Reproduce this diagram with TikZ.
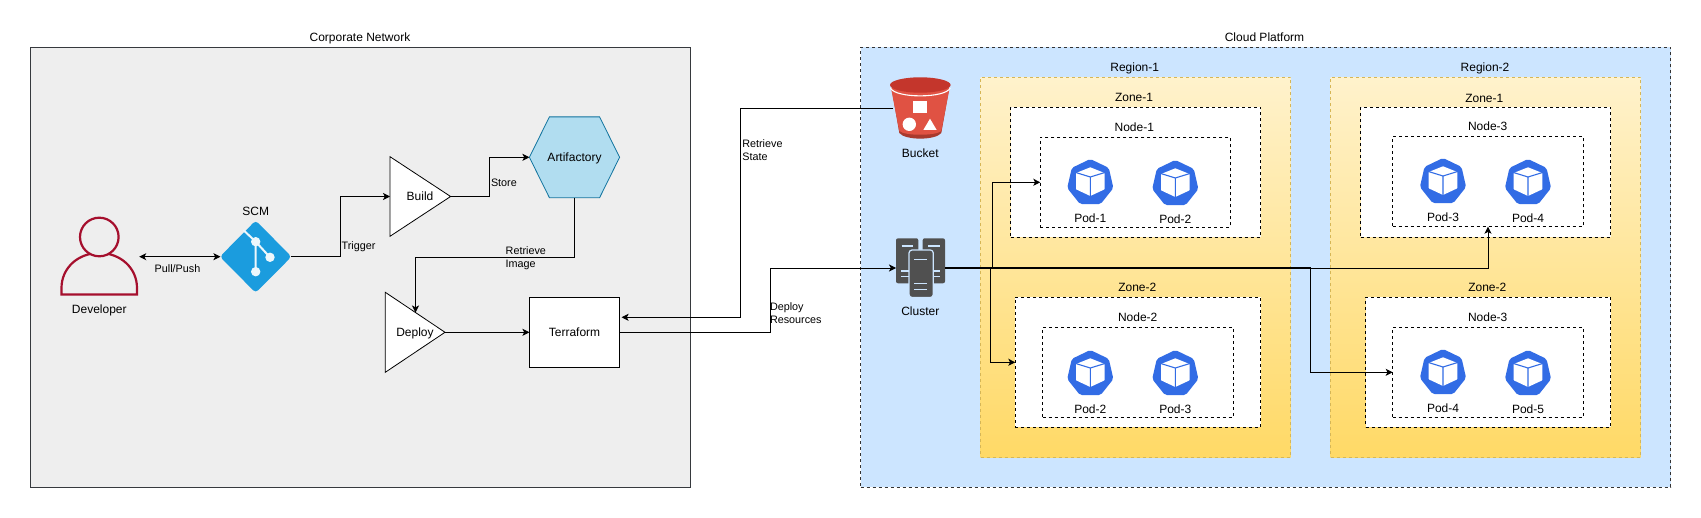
\documentclass[tikz,border=0pt]{standalone}
\usepackage{fontspec}
\setmainfont{Liberation Sans}
\usetikzlibrary{arrows.meta,calc}
\definecolor{corpfill}{HTML}{EEEEEE}
\definecolor{corpline}{HTML}{36393D}
\definecolor{cloudfill}{HTML}{CCE5FF}
\definecolor{regline}{HTML}{D6B656}
\definecolor{regtop}{HTML}{FFF2CC}
\definecolor{regbot}{HTML}{FFD966}
\definecolor{artfill}{HTML}{B1DDF0}
\definecolor{artline}{HTML}{10739E}
\definecolor{devline}{HTML}{A50F2D}
\definecolor{scmblue}{HTML}{1B9CDE}
\definecolor{podblue}{HTML}{326CE5}
\definecolor{bucketred}{HTML}{E05243}
\definecolor{bucketdark}{HTML}{C4362C}
\definecolor{bucketlip}{HTML}{A93A2E}
\definecolor{servergrey}{HTML}{505050}
\newcommand{\bx}[7]{%
  \pgfmathsetmacro{\bxw}{#5-#3}\pgfmathsetmacro{\bxh}{#6-#4}%
  \pgfmathsetmacro{\bxcx}{(#5+#3)/2}\pgfmathsetmacro{\bxcy}{(#6+#4)/2}%
  \node[boxbase,minimum width=\bxw pt,minimum height=\bxh pt,#1] (#2) at (\bxcx,\bxcy) {#7};}
\tikzset{
  x=1pt,y=-1pt,
  every node/.style={font=\fontsize{12}{13}\selectfont},
  boxbase/.style={inner sep=0pt,outer sep=0pt,rectangle},
  corpbox/.style={draw=corpline,fill=corpfill,line width=0.8pt},
  cloudbox/.style={draw=black!80,fill=cloudfill,line width=0.8pt,dash pattern=on 3pt off 3pt},
  regionbox/.style={draw=regline,top color=regtop,bottom color=regbot,line width=0.8pt,dash pattern=on 3pt off 3pt},
  whitebox/.style={draw=black,fill=white,line width=0.8pt,dash pattern=on 3pt off 3pt},
  solidbox/.style={draw=black,fill=white,line width=0.8pt},
  ghost/.style={},
  lbl/.style={inner sep=0pt,outer sep=0pt,text height=8.6pt,text depth=0pt},
  small/.style={font=\fontsize{10.8}{13}\selectfont,inner sep=0pt,outer sep=0pt,align=left,anchor=west},
  conn/.style={draw=black,line width=0.9pt},
  arr/.style={conn,-{Stealth[length=7pt,width=7pt,inset=1.8pt]}},
  darr/.style={conn,{Stealth[length=7pt,width=7pt,inset=1.8pt]}-{Stealth[length=7pt,width=7pt,inset=1.8pt]}},
  pod/.pic={
    \fill[podblue,rounded corners=2pt] (0,0) -- (18.5,8.9) -- (23.1,29) -- (10.3,45.1) -- (-10.3,45.1) -- (-23.1,29) -- (-18.5,8.9) -- cycle;
    \fill[white,rounded corners=0.5pt] (0,8.3) -- (14.3,14) -- (14.3,30.3) -- (0,37) -- (-14.3,30.3) -- (-14.3,14) -- cycle;
    \draw[podblue,line width=1.1pt] (-14.3,13.6) -- (0,18) -- (14.3,13.6) (0,18) -- (0,37);
  }
}
\begin{document}
\begin{tikzpicture}
\useasboundingbox (0,0) rectangle (1701,518);
% containers
\bx{corpbox}{corp}{30.5}{47.3}{690.7}{487.3}{}
\bx{cloudbox}{cloud}{860.7}{47.3}{1670.7}{487.3}{}
\bx{regionbox}{reg1}{980.7}{77.3}{1290.7}{457.3}{}
\bx{regionbox}{reg2}{1330.7}{77.3}{1640.7}{457.3}{}
\bx{whitebox}{z11}{1010.7}{107.3}{1260.7}{237.3}{}
\bx{whitebox}{n11}{1040.3}{137.3}{1230.3}{227.3}{}
\bx{whitebox}{z12}{1015.3}{297.3}{1260.7}{427.3}{}
\bx{whitebox}{n12}{1042.7}{327.3}{1233.3}{417.3}{}
\bx{whitebox}{z21}{1360.7}{107.3}{1610.7}{237.3}{}
\bx{whitebox}{n21}{1392.7}{136.7}{1583.3}{226.7}{}
\bx{whitebox}{z22}{1365.7}{297.3}{1610.7}{427.3}{}
\bx{whitebox}{n22}{1392.7}{327.3}{1583.3}{417.3}{}
% container titles
\node[lbl] (tcorp) at (360,37.5) {Corporate Network};
\node[lbl] (tcloud) at (1264.5,37.5) {Cloud Platform};
\node[lbl] (treg1) at (1134.7,67.5) {Region-1};
\node[lbl] (treg2) at (1485,67.5) {Region-2};
\node[lbl] (tz11) at (1134,97.7) {Zone-1};
\node[lbl] (tn11) at (1134.3,127.7) {Node-1};
\node[lbl] (tz12) at (1137.3,287.7) {Zone-2};
\node[lbl] (tn12) at (1137.7,317.7) {Node-2};
\node[lbl] (tz21) at (1484.3,98) {Zone-1};
\node[lbl] (tn21) at (1487.7,126.7) {Node-3};
\node[lbl] (tz22) at (1487.3,287.7) {Zone-2};
\node[lbl] (tn22) at (1487.7,317.7) {Node-3};
% pods
\pic at (1090.3,159) {pod}; \pic at (1175.3,160) {pod};
\pic at (1090.3,350) {pod}; \pic at (1175.3,350) {pod};
\pic at (1443,158) {pod}; \pic at (1528,159) {pod};
\pic at (1443,349) {pod}; \pic at (1528,350) {pod};
\node[lbl] (lp1) at (1090.3,218.7) {Pod-1};
\node[lbl] (lp2) at (1175.3,219.7) {Pod-2};
\node[lbl] (lp3) at (1090.3,409.7) {Pod-2};
\node[lbl] (lp4) at (1175.3,409.7) {Pod-3};
\node[lbl] (lp5) at (1443,217.7) {Pod-3};
\node[lbl] (lp6) at (1528,218.7) {Pod-4};
\node[lbl] (lp7) at (1443,408.3) {Pod-4};
\node[lbl] (lp8) at (1528,409.7) {Pod-5};
% bucket
\bx{ghost}{bucket}{890}{77.3}{950.7}{138.7}{}
\fill[bucketlip] (891.5,88) -- (899.3,133) .. controls (905,140.5) and (935.5,140.5) .. (941.3,133) -- (949.3,88) -- cycle;
\fill[bucketred] (891,88) -- (899.3,131) .. controls (905,136) and (935.5,136) .. (941.3,131) -- (949.6,88) -- cycle;
\draw[white,line width=1.1pt] (890.5,88) .. controls (895,98.5) and (945.5,98.5) .. (950.2,88);
\fill[bucketdark] (920.3,85) ellipse [x radius=30.3,y radius=7.7];
\fill[white] (913.3,100.7) rectangle (926.7,113.3);
\fill[white] (909.3,124.3) circle [radius=6.7];
\fill[white] (930,118.7) -- (936.7,130) -- (923.3,130) -- cycle;
\node[lbl] (lbucket) at (920.3,153.4) {Bucket};
% cluster
\bx{ghost}{cluster}{896}{238.3}{945}{297.7}{}
\fill[servergrey,rounded corners=2pt] (896,238.3) rectangle (918.3,283.3);
\fill[servergrey,rounded corners=2pt] (922.7,238.3) rectangle (945,283.3);
\draw[cloudfill,line width=1.2pt] (901.7,246) -- (913.3,246) (928.3,246) -- (940,246);
\draw[cloudfill,line width=1.2pt] (901.3,271) -- (909,271) (901.3,276.7) -- (909,276.7) (933.3,271) -- (940,271) (933.3,276.7) -- (940,276.7);
\fill[servergrey,rounded corners=3pt,draw=cloudfill,line width=1.2pt] (909,250) rectangle (933.3,297.5);
\draw[cloudfill,line width=1.2pt] (914.3,259.7) -- (926.7,259.7) (914.3,283.3) -- (926.7,283.3) (914.3,289.7) -- (926.7,289.7);
\node[lbl] (lcluster) at (920.3,311.4) {Cluster};
% developer
\bx{ghost}{dev}{61}{218.4}{137.5}{295}{}
\draw[devline,line width=2.2pt] (61.5,294.5) -- (61.5,288) .. controls (61.5,268) and (78,253) .. (99.3,253) .. controls (120.5,253) and (137,268) .. (137,288) -- (137,294.5) -- cycle;
\draw[devline,fill=corpfill,line width=2.2pt] (99.3,237) circle [radius=19.3];
\node[lbl] (ldev) at (99.3,309) {Developer};
% SCM
\bx{ghost}{scm}{220.4}{221}{291}{292.4}{}
\fill[scmblue,rounded corners=3.5pt] (255.7,220.5) -- (291.5,256.7) -- (255.7,292.8) -- (219.9,256.7) -- cycle;
\draw[white!92!scmblue,line width=2pt] (243.3,230) -- (255.7,241.7) -- (255.7,271.7) (255.7,241.7) -- (270,257.3);
\fill[white!92!scmblue] (255.7,241.7) circle [radius=4.7] (270,257.3) circle [radius=4.7] (255.7,271.7) circle [radius=4.7];
\node[lbl] (lscm) at (255.7,211.7) {SCM};
% pipeline shapes
\bx{ghost}{build}{390}{156.7}{450.6}{236.3}{}
\draw[solidbox] (build.north west) -- (build.east) -- (build.south west) -- cycle;
\node[lbl] (lbuild) at (420,196.7) {Build};
\bx{ghost}{deploy}{385.3}{292.3}{445}{372.3}{}
\draw[solidbox] (deploy.north west) -- (deploy.east) -- (deploy.south west) -- cycle;
\node[lbl] (ldeploy) at (415,332.3) {Deploy};
\bx{ghost}{art}{529.4}{116.9}{619.6}{197.7}{}
\draw[draw=artline,fill=artfill,line width=0.8pt] (art.west) -- ($(art.north west)+(20,0)$) -- ($(art.north east)+(-20,0)$) -- (art.east) -- ($(art.south east)+(-20,0)$) -- ($(art.south west)+(20,0)$) -- cycle;
\node[lbl] (lart) at (574.5,157.3) {Artifactory};
\bx{solidbox}{terra}{529.4}{297.3}{619.6}{367.3}{Terraform}
% way-points
\coordinate (t1) at (340.8,256.7);
\coordinate (s1) at (489.8,196.5);
\coordinate (r1) at (415.5,257.3);
\coordinate (r2) at (415.5,312.5);
\coordinate (b1) at (740.3,108);
\coordinate (b2) at (740.3,317.3);
\coordinate (d1) at (770.7,332.3);
\coordinate (d2) at (770.7,268);
\coordinate (ja) at (992.3,267.4);
\coordinate (jb) at (990.7,268);
\coordinate (jc) at (1310.7,267.4);
% connectors
\draw[darr,shorten <=1.7pt] (dev.east) -- (scm.west);
\draw[arr] (scm.east) -- (t1) |- (build.west);
\draw[arr] (build.east) -- (s1) |- (art.west);
\draw[arr] (art.south) |- (r1) -- (r2);
\draw[arr] (deploy.east) -- (terra.west);
\draw[arr] ([xshift=3.3pt]bucket.west) -- (b1) -- (b2) -- ([yshift=15pt,xshift=2pt]terra.east);
\draw[arr] (terra.east) -- (d1) -- (d2) -- (cluster.west);
\draw[arr] ([yshift=0.6pt]cluster.east) -- (ja) |- (n11.west);
\draw[arr] (cluster.east) -- (jb) |- (z12.west);
\draw[arr] ([yshift=0.6pt]cluster.east) -- (jc) |- (n22.west);
\draw[arr] (cluster.east) -| (n21.south);
% connector labels
\node[small,anchor=center] (lpull) at (177.5,268.7) {Pull/Push};
\node[small] (ltrig) at (341.6,246.3) {Trigger};
\node[small] (lstore) at (491,183) {Store};
\node[small] (lret) at (505.7,258.6) {Retrieve\\Image};
\node[small] (lstate) at (742.3,149.8) {Retrieve\\State};
\node[small] (lres) at (770,312.8) {Deploy\\Resources};
\end{tikzpicture}
\end{document}
